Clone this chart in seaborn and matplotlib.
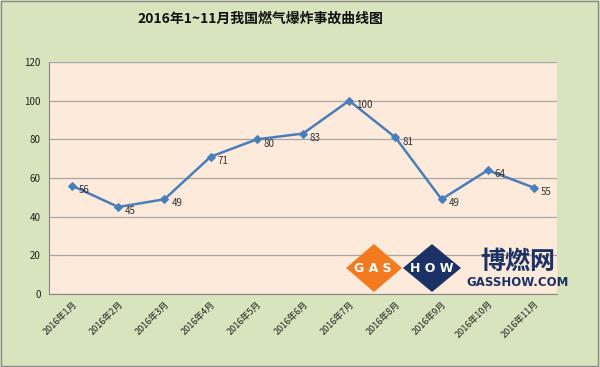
import matplotlib.pyplot as plt
import seaborn as sns
import pandas as pd
from matplotlib.patches import Polygon, Rectangle

months = ["2016年1月", "2016年2月", "2016年3月", "2016年4月", "2016年5月", "2016年6月",
          "2016年7月", "2016年8月", "2016年9月", "2016年10月", "2016年11月"]
accidents = [56, 45, 49, 71, 80, 83, 100, 81, 49, 64, 55]
title = "2016年1~11月我国燃气爆炸事故曲线图"

df = pd.DataFrame({"month": months, "count": accidents})

sns.set_style("white")
plt.rcParams["font.family"] = ["Noto Sans CJK SC", "DejaVu Sans"]

fig = plt.figure(figsize=(6, 3.67), dpi=100, facecolor="#d7e4bd")
ax = fig.add_axes([0.0817, 0.199, 0.8466, 0.632])
ax.set_facecolor("#fdeada")

x = list(range(len(months)))
sns.lineplot(x=x, y=df["count"], ax=ax, color="#4a7ebb", linewidth=1.8,
             marker="D", markersize=4.2, markeredgecolor="#4a7ebb")

for xi, v in zip(x, accidents):
    ax.annotate(str(v), (xi, v), xytext=(5, -3), textcoords="offset points",
                fontsize=7, color="#333333", va="center", ha="left")

ax.set_xlim(-0.5, len(months) - 0.5)
ax.set_ylim(0, 120)
ax.set_yticks(range(0, 121, 20))
ax.set_xticks([i + 0.5 for i in range(-1, len(months))], minor=False)
ax.set_xticklabels([])
ax.set_xticks(x, minor=True)
ax.set_xticklabels(months, minor=True, rotation=45, ha="right", rotation_mode="anchor",
                   fontsize=6.5, color="#222222")
ax.tick_params(axis="x", which="minor", length=0, pad=4)
ax.tick_params(axis="x", which="major", length=4, color="#868686", direction="out")
ax.tick_params(axis="y", labelsize=7, length=3, color="#868686", pad=3, labelcolor="#222222")
ax.grid(axis="y", color="#a6a6a6", linewidth=0.9)
ax.set_axisbelow(True)
for side in ["top", "right"]:
    ax.spines[side].set_visible(False)
for side in ["left", "bottom"]:
    ax.spines[side].set_color("#868686")
ax.set_xlabel("")
ax.set_ylabel("")

fig.text(0.434, 0.948, title, ha="center", va="center", fontsize=10, fontweight="bold",
         color="#111111")

# outer frame
fig.patches.append(Rectangle((0.002, 0.003), 0.995, 0.993, transform=fig.transFigure,
                             fill=False, edgecolor="#8c8c8c", linewidth=1))

# watermark logo
def diamond(cx, cy, w, h, color):
    pts = [(cx - w / 2, cy), (cx, cy + h / 2), (cx + w / 2, cy), (cx, cy - h / 2)]
    pts = [(px / 600, 1 - py / 367) for px, py in pts]
    return Polygon(pts, closed=True, transform=fig.transFigure, facecolor=color,
                   edgecolor="none", zorder=5)

fig.patches.append(diamond(374, 268, 56, 48, "#f47a20"))
fig.patches.append(diamond(432, 268, 58, 48, "#1a3266"))
fig.text(373 / 600, 1 - 268 / 367, "G A S", color="white", fontsize=9, fontweight="bold",
         ha="center", va="center", zorder=6, family="DejaVu Sans")
fig.text(432 / 600, 1 - 268 / 367, "H O W", color="white", fontsize=9, fontweight="bold",
         ha="center", va="center", zorder=6, family="DejaVu Sans")
fig.text(518 / 600, 1 - 262 / 367, "博燃网", color="#1a3266", fontsize=18, fontweight="bold",
         ha="center", va="center", zorder=6)
fig.text(518 / 600, 1 - 283 / 367, "GASSHOW.COM", color="#1a3266", fontsize=8.5,
         fontweight="bold", ha="center", va="center", zorder=6, family="DejaVu Sans")

fig.savefig("out.png", dpi=100, facecolor=fig.get_facecolor())
